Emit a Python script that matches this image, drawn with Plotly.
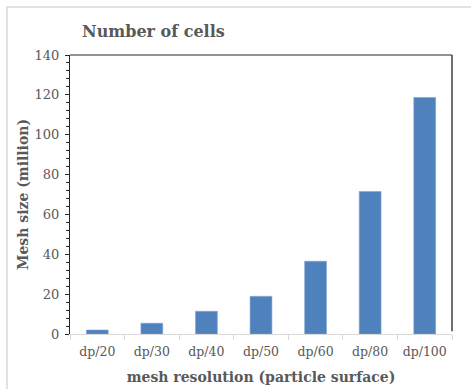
import plotly.graph_objects as go

categories = ["dp/20", "dp/30", "dp/40", "dp/50", "dp/60", "dp/80", "dp/100"]
mesh_size = [2.0, 5.4, 11.4, 18.9, 36.5, 71.5, 118.7]
y_ticks = [0, 20, 40, 60, 80, 100, 120, 140]

FONT = "DejaVu Serif"
GRAY = "#595959"

W, H = 471, 389
L, R, T, B = 70, 19, 55, 55

fig = go.Figure(go.Bar(
    x=categories, y=mesh_size,
    marker=dict(color="#4f81bd", line=dict(color="#7da2d0", width=0.6)),
    width=0.4,
))

pw = W - L - R
ph = H - T - B

fig.update_layout(
    width=W, height=H,
    margin=dict(l=L, r=R, t=T, b=B),
    paper_bgcolor="white", plot_bgcolor="white",
    showlegend=False,
    font=dict(family=FONT, color=GRAY, size=13),
    title=dict(text="<b>Number of cells</b>", x=82 / W, xanchor="left",
               y=1 - 31 / H, yanchor="middle",
               font=dict(family=FONT, size=16, color=GRAY)),
    xaxis=dict(
        automargin=False, tickangle=0,
        showgrid=False, showline=True, linecolor="#d9d9d9", linewidth=1,
        ticks="outside", tickson="boundaries", ticklen=5, tickcolor="#d9d9d9",
        ticklabelstandoff=6,
        tickfont=dict(family=FONT, size=12.5, color=GRAY),
        title=dict(text="<b>mesh resolution (particle surface)</b>",
                   font=dict(family=FONT, size=14, color=GRAY), standoff=14),
    ),
    yaxis=dict(
        automargin=False,
        range=[0, 140], tickvals=y_ticks, showgrid=False, zeroline=False,
        showline=True, linecolor="#262626", linewidth=1,
        ticks="outside", ticklen=4, tickcolor="#262626",
        ticklabelstandoff=3,
        minor=dict(dtick=4, ticks="outside", ticklen=3, tickcolor="#262626", showgrid=False),
        tickfont=dict(family=FONT, size=13, color=GRAY),
        title=dict(text="<b>Mesh size (million)</b>",
                   font=dict(family=FONT, size=14, color=GRAY), standoff=2),
    ),
    shapes=[
        dict(type="line", xref="paper", yref="paper", x0=0, x1=1, y0=1, y1=1,
             line=dict(color="#262626", width=1)),
        dict(type="line", xref="paper", yref="paper", x0=1, x1=1, y0=0.01, y1=1,
             line=dict(color="#404040", width=1.5)),
        dict(type="rect", xref="paper", yref="paper",
             x0=(7 - L) / pw, x1=(W + 10 - L) / pw,
             y0=-(H + 10 - T - ph) / ph, y1=(ph + T - 7) / ph,
             line=dict(color="#d9d9d9", width=1.5), layer="below"),
    ],
)

fig.write_html("out.html")
